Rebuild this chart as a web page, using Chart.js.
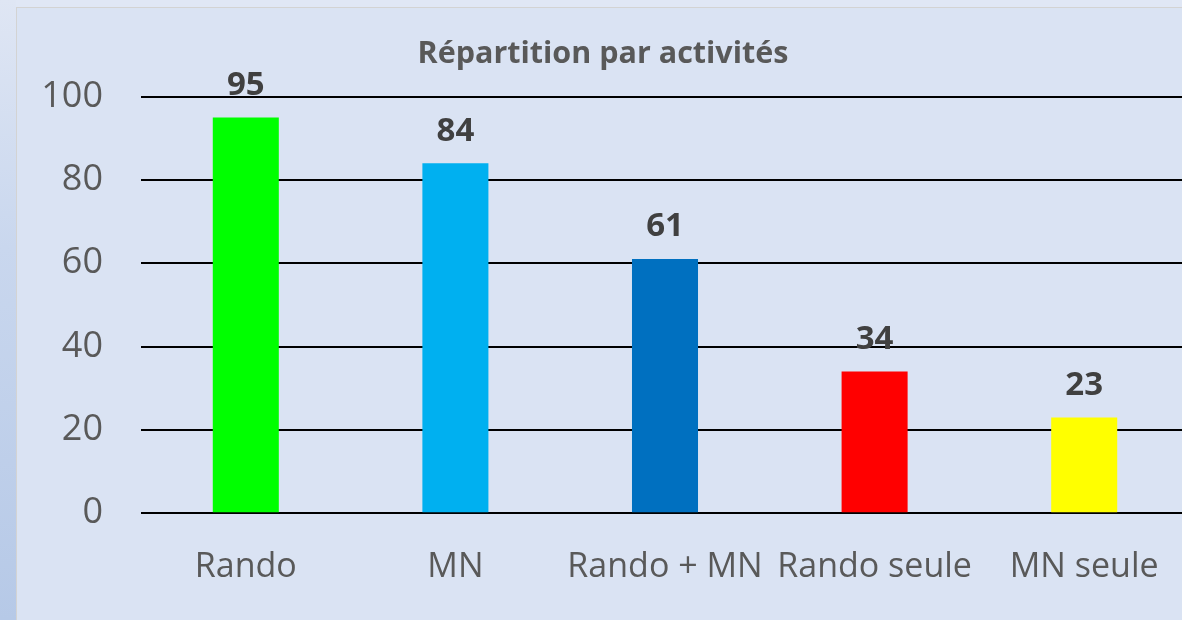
<!DOCTYPE html>
<html>
<head>
<meta charset="utf-8">
<script src="https://cdn.jsdelivr.net/npm/chart.js@4"></script>
<style>
  html, body { margin: 0; padding: 0; width: 1182px; height: 620px; overflow: hidden; }
  body { background: #e0e7f5; position: relative; font-family: "Open Sans", sans-serif; }
  #strip { position: absolute; left: 0; top: 0; width: 16px; height: 620px;
           background: linear-gradient(to bottom, #dfe6f4 0%, #c9d7ee 40%, #b6c9e7 100%); }
  #box { position: absolute; left: 16px; top: 7px; width: 1180px; height: 613px;
         background: #dae3f3; border-top: 1px solid #d3d3d3; border-left: 1px solid #d3d3d3; }
  canvas { display: block; }
</style>
</head>
<body>
<div id="strip"></div>
<div id="box"><canvas id="chart" width="1180" height="612"></canvas></div>
<script>
// Répartition par activités
const categories = ['Rando', 'MN', 'Rando + MN', 'Rando seule', 'MN seule'];
const values = [95, 84, 61, 34, 23];
const barColors = ['#00ff00', '#00b0f0', '#0070c0', '#ff0000', '#ffff00'];
const yTicks = [0, 20, 40, 60, 80, 100];

// étiquettes de valeurs au-dessus des barres
const valueLabels = {
    id: 'valueLabels',
    afterDatasetsDraw(chart) {
        const ctx = chart.ctx;
        const meta = chart.getDatasetMeta(0);
        ctx.save();
        ctx.font = 'bold 33px "Open Sans"';
        ctx.fillStyle = '#404040';
        ctx.textAlign = 'center';
        ctx.textBaseline = 'middle';
        meta.data.forEach((bar, i) => {
            ctx.fillText(values[i], bar.x, bar.y - 32);
        });
        ctx.restore();
    }
};

const ctx = document.getElementById('chart').getContext('2d');
const chart = new Chart(ctx, {
    type: 'bar',
    data: {
        labels: categories,
        datasets: [{
            data: values,
            backgroundColor: barColors,
            barPercentage: 0.315,
            categoryPercentage: 1
        }]
    },
    options: {
        responsive: false,
        animation: false,
        layout: { padding: { left: 0, right: 8, top: 0, bottom: 6 } },
        plugins: {
            legend: { display: false },
            tooltip: { enabled: false },
            title: {
                display: true,
                text: 'Répartition par activités',
                color: '#595959',
                font: { family: 'Open Sans', size: 30.5, weight: 'bold' },
                padding: { top: 28, bottom: 24 }
            }
        },
        scales: {
            x: {
                grid: { display: false },
                border: { display: false },
                ticks: {
                    color: '#595959',
                    font: { family: 'Open Sans', size: 34 },
                    padding: 26,
                    autoSkip: false,
                    maxRotation: 0
                }
            },
            y: {
                min: 0,
                max: 100,
                afterBuildTicks(scale) {
                    scale.ticks = yTicks.map(v => ({ value: v }));
                },
                afterFit(scale) { scale.width = 124; },
                grid: { color: '#000000', lineWidth: 2, drawTicks: false },
                border: { display: false },
                ticks: {
                    color: '#595959',
                    font: { family: 'Open Sans', size: 36 },
                    padding: 38
                }
            }
        }
    },
    plugins: [valueLabels]
});
</script>
</body>
</html>
